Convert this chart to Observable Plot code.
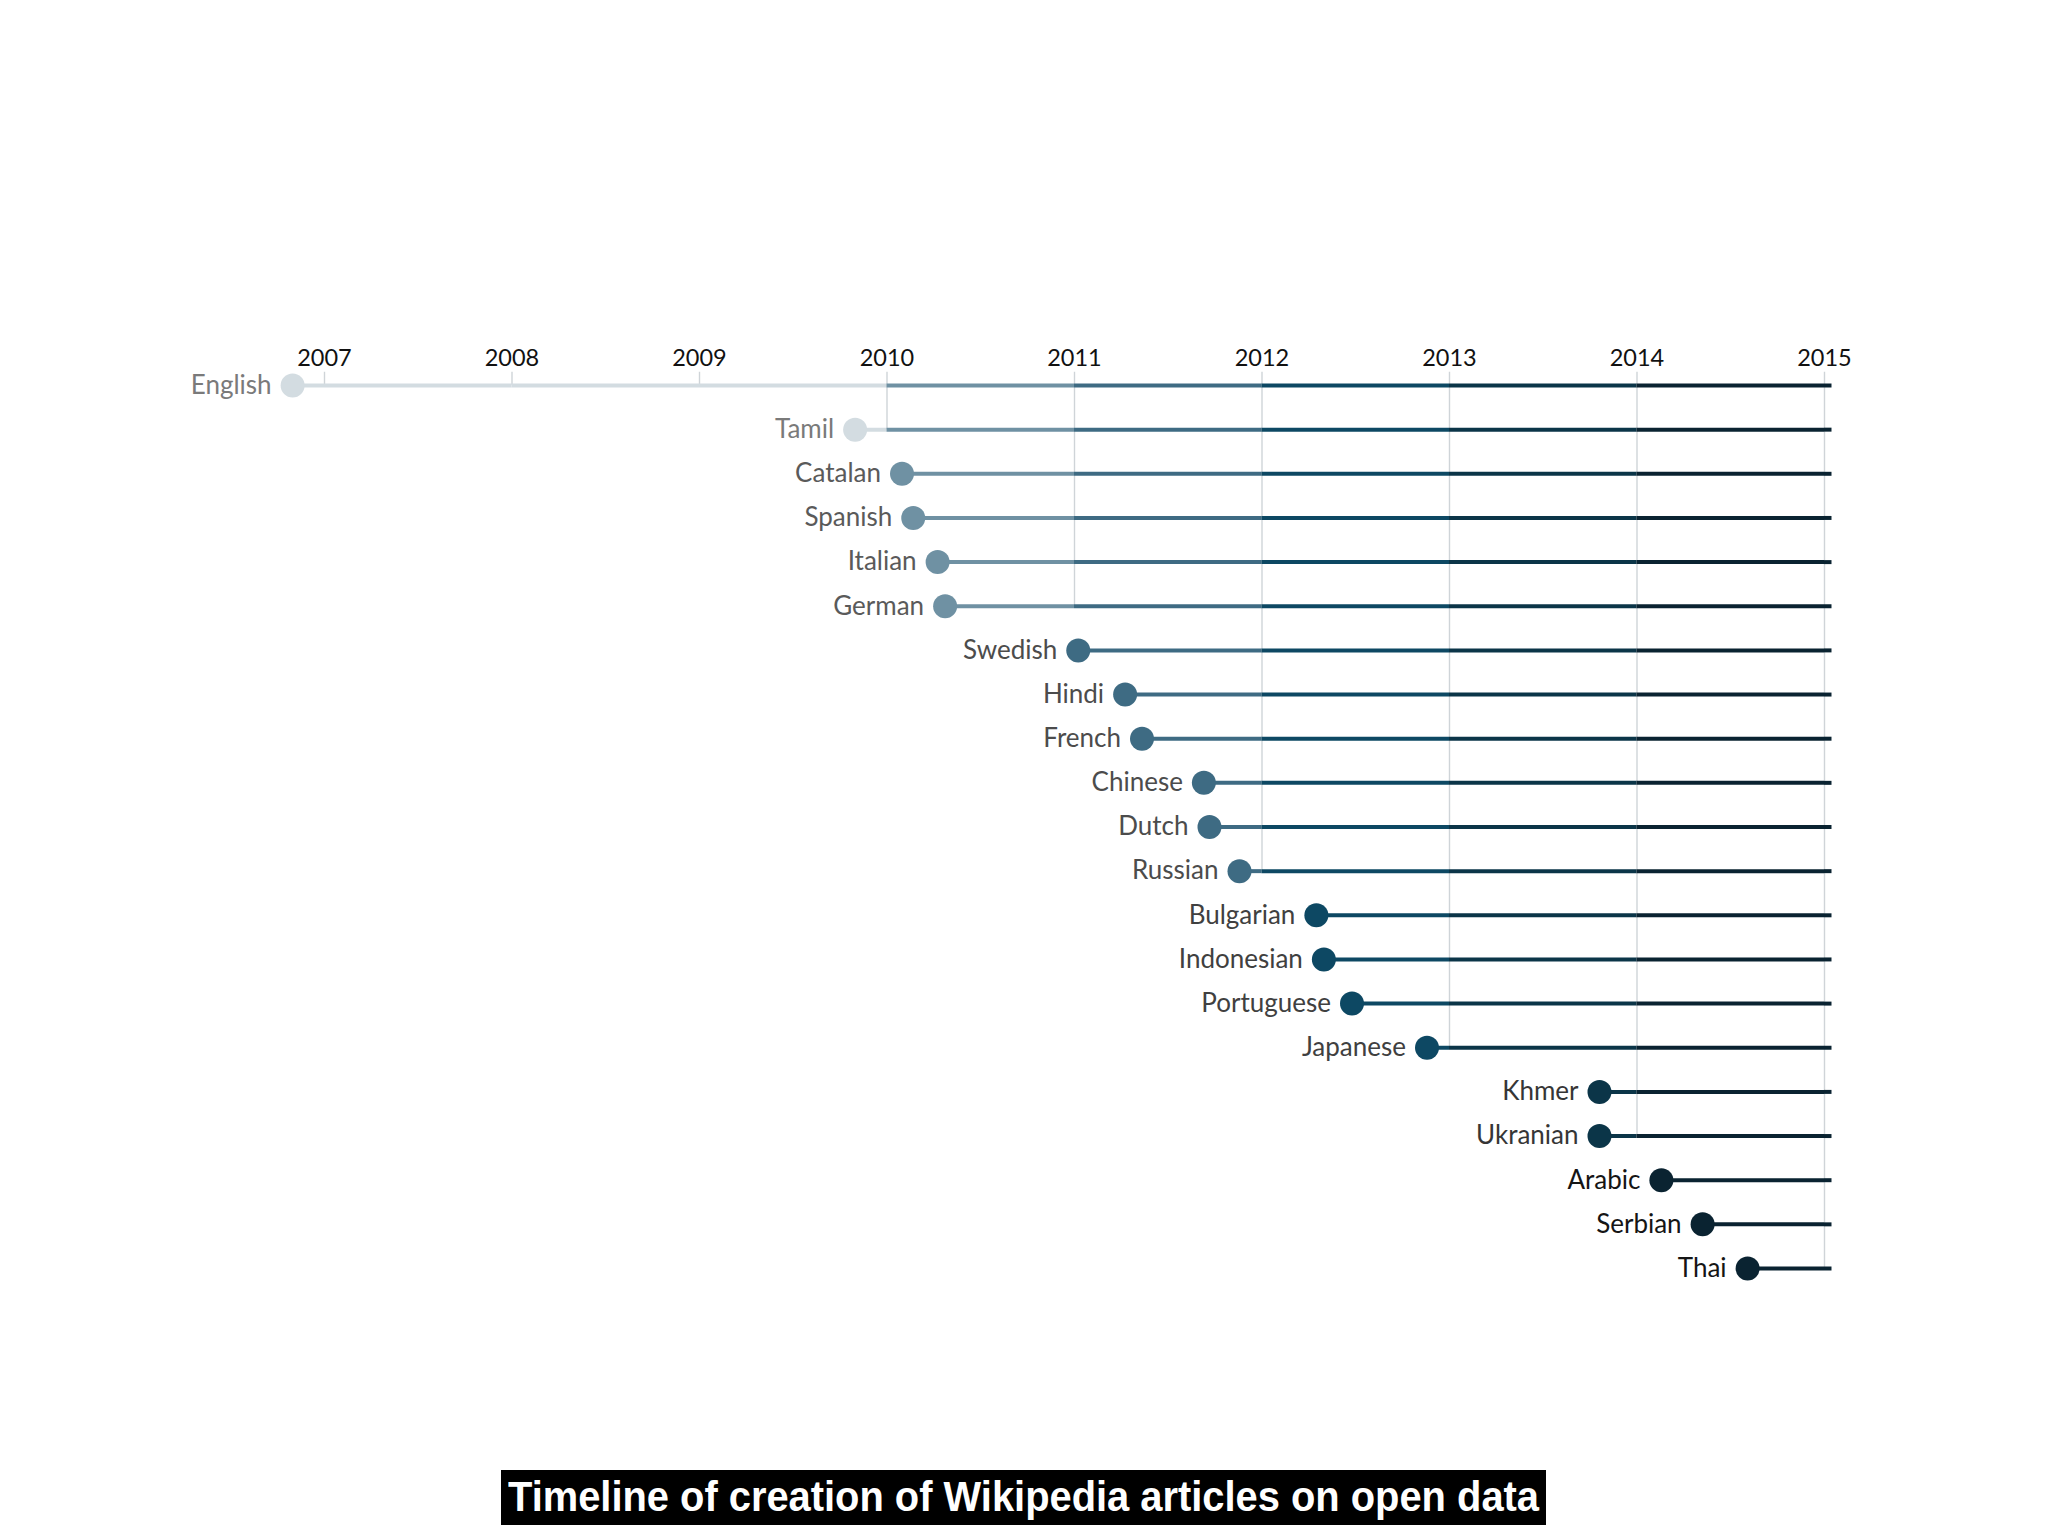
<!DOCTYPE html>
<html>
<head>
<meta charset="utf-8">
<script src="https://cdn.jsdelivr.net/npm/d3@7"></script>
<script src="https://cdn.jsdelivr.net/npm/@observablehq/plot@0.6"></script>
<style>
  html, body { margin: 0; padding: 0; background: #ffffff; }
  #chart { width: 2048px; }
  #title-wrap { position: relative; width: 2048px; height: 60px; margin-top: 30px; }
  #title-box { position: absolute; left: 501px; top: 0; width: 1045px; height: 55px; background: #000; overflow: hidden; }
  #title-text { position: absolute; left: 7px; top: 3px; white-space: nowrap; color: #fff;
    font: bold 42px "Liberation Sans", Arial, sans-serif; transform-origin: 0 0; }
</style>
</head>
<body>
<div id="chart"></div>
<div id="title-wrap"><div id="title-box"><span id="title-text">Timeline of creation of Wikipedia articles on open data</span></div></div>
<script>
const languages = ["English","Tamil","Catalan","Spanish","Italian","German","Swedish","Hindi","French","Chinese","Dutch","Russian","Bulgarian","Indonesian","Portuguese","Japanese","Khmer","Ukranian","Arabic","Serbian","Thai"];
const created = [2006.83, 2009.83, 2010.08, 2010.14, 2010.27, 2010.31, 2011.02, 2011.27, 2011.36, 2011.69, 2011.72, 2011.88, 2012.29, 2012.33, 2012.48, 2012.88, 2013.80, 2013.80, 2014.13, 2014.35, 2014.59];
const yearTicks = [2007, 2008, 2009, 2010, 2011, 2012, 2013, 2014, 2015];
const timelineEnd = 2015.04;

const binEdges = [2010, 2011, 2012, 2013, 2014];
const binColors = ["#d3dce1", "#6f91a3", "#3e6b83", "#0d4863", "#0b3548", "#0a2331"];
const labelColors = ["#7a7a7a", "#5a5a5a", "#4c4c4c", "#404040", "#363636", "#151515"];

const rows = languages.map((name, i) => ({name, i, date: created[i]}));

// split each timeline at year boundaries so each piece takes its year's colour
const segments = [];
rows.forEach(r => {
  const cuts = [r.date, ...yearTicks.filter(y => y > r.date && y < timelineEnd), timelineEnd];
  for (let k = 0; k < cuts.length - 1; k++) segments.push({i: r.i, x1: cuts[k], x2: cuts[k + 1]});
});

// gridline for each year runs down to the last language created before it
const grid = yearTicks.map(year => {
  const before = rows.filter(r => r.date < year);
  return {year, last: d3.max(before, r => r.i)};
});

const binOf = d => d3.bisectRight(binEdges, d);

const chart = Plot.plot({
  width: 2048,
  height: 1440,
  x: {domain: [2007, 2015], range: [324, 1824], axis: null},
  y: {domain: [0, 20], range: [385, 1268], axis: null},
  color: {type: "threshold", domain: binEdges, range: binColors},
  style: {fontFamily: "Lato, 'Open Sans', sans-serif", background: "#ffffff"},
  marks: [
    Plot.ruleX(grid, {x: "year", y1: -0.3, y2: "last", stroke: "#cfd4d8", strokeWidth: 1.4}),
    Plot.ruleY(segments, {y: "i", x1: "x1", x2: "x2", stroke: "x1", strokeWidth: 4}),
    Plot.dot(rows, {x: "date", y: "i", r: 12, fill: "date", stroke: null}),
    Plot.text(rows, {x: "date", y: "i", text: "name", textAnchor: "end", dx: -21, fontSize: 26,
      fill: d => labelColors[binOf(d.date)]}),
    Plot.text(yearTicks, {x: d => d, y: -0.62, text: d => String(d), fontSize: 23.5, fill: "#111111"})
  ]
});
document.getElementById("chart").appendChild(chart);

// fit title text to the black band
const t = document.getElementById("title-text");
const w = t.getBoundingClientRect().width;
t.style.transform = `scaleX(${1031 / w})`;
</script>
</body>
</html>
